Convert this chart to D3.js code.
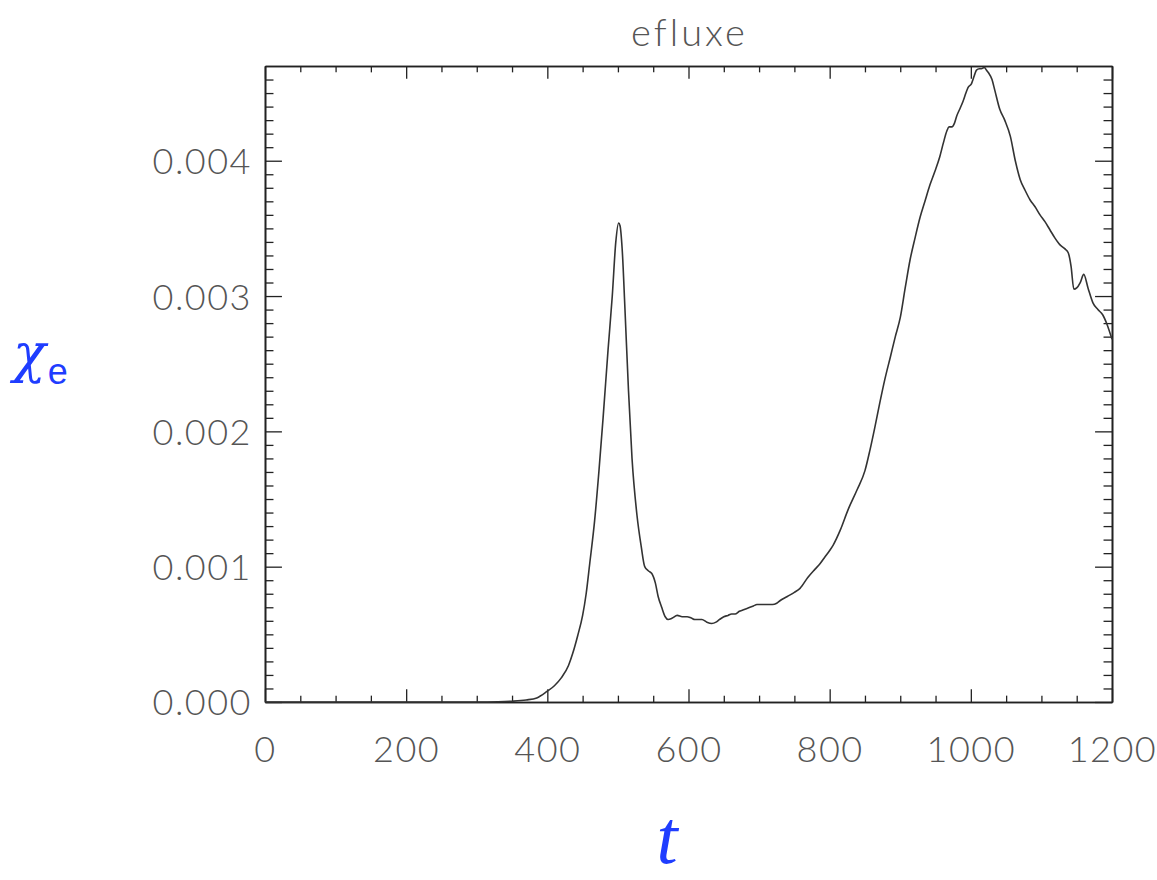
<!DOCTYPE html>
<html>
<head>
<meta charset="utf-8">
<script src="https://cdn.jsdelivr.net/npm/d3@7"></script>
<style>
  html, body { margin: 0; padding: 0; background: #fff; }
  svg { display: block; }
  .tick text { font-family: Lato, "Open Sans", sans-serif; font-weight: 300; fill: #555; letter-spacing: 1.5px; }
</style>
</head>
<body>
<svg id="chart" width="1157" height="880"></svg>
<script>
// time samples
const tValues = [
  0, 100, 200, 300, 330, 350, 370, 385, 400, 410, 420, 430, 436, 443, 450, 455, 460, 467, 473, 479, 486, 492,
  497, 501, 503, 506, 510, 515, 520, 527, 533, 538, 543, 548, 553, 557, 562, 567, 571, 577, 584, 591,
  598, 604, 609, 614, 619, 626, 633, 639, 644, 650, 656, 661, 666, 672, 677, 682, 687, 692, 697, 705,
  713, 719, 725, 730, 740, 750, 758, 769, 779, 786, 793, 800, 805, 815, 826, 839, 850, 857, 864, 871,
  878, 886, 893, 900, 907, 914, 921, 928, 935, 942, 949, 956, 961, 966, 969, 973, 977, 980, 985, 989,
  993, 996, 1001, 1005, 1008, 1012, 1015, 1019, 1022, 1025, 1030, 1034, 1041, 1048, 1056, 1063, 1070, 1077, 1084, 1091,
  1098, 1105, 1112, 1119, 1126, 1133, 1138, 1142, 1146, 1150, 1155, 1160, 1166, 1173, 1180, 1187, 1193, 1200
];
// electron heat diffusivity chi_e
const chiValues = [
  0, 0, 0, 0, 0.000002, 0.000006, 0.000015, 0.00003, 0.00008, 0.00012, 0.00018, 0.00027, 0.00036, 0.00049, 0.00064, 0.00080, 0.00102, 0.00134, 0.00170, 0.00210, 0.00260, 0.00300,
  0.00340, 0.00354, 0.00352, 0.00335, 0.00290, 0.00230, 0.00180, 0.00138, 0.00115, 0.00100, 0.00097, 0.00095, 0.00088, 0.00078, 0.00070, 0.00063, 0.00061, 0.00062, 0.00064, 0.00063,
  0.00063, 0.00062, 0.00061, 0.00061, 0.00061, 0.00059, 0.00058, 0.00059, 0.00061, 0.00063, 0.00064, 0.00065, 0.00065, 0.00067, 0.00068, 0.00069, 0.00070, 0.00071, 0.00072, 0.00072,
  0.00072, 0.00072, 0.00073, 0.00075, 0.00078, 0.00081, 0.00084, 0.00092, 0.00098, 0.00102, 0.00107, 0.00112, 0.00116, 0.00127, 0.00142, 0.00157, 0.00171, 0.00186, 0.00203, 0.00221,
  0.00238, 0.00255, 0.00270, 0.00284, 0.00306, 0.00327, 0.00343, 0.00358, 0.00370, 0.00382, 0.00392, 0.00403, 0.00413, 0.00422, 0.00425, 0.00425, 0.00428, 0.00433, 0.00439, 0.00444,
  0.00450, 0.00454, 0.00457, 0.00463, 0.00467, 0.00468, 0.00468, 0.00469, 0.00467, 0.00465, 0.00460, 0.00452, 0.00438, 0.00430, 0.00418, 0.00400, 0.00386, 0.00378, 0.00371, 0.00366,
  0.00360, 0.00355, 0.00349, 0.00343, 0.00338, 0.00335, 0.00332, 0.00322, 0.00305, 0.00306, 0.00310, 0.00316, 0.00306, 0.00295, 0.00290, 0.00286, 0.00279, 0.00268
];
// axis ticks
const xMajorTicks = [0, 200, 400, 600, 800, 1000, 1200];
const yMajorTicks = [0, 0.001, 0.002, 0.003, 0.004];
const xMinorStep = 50;
const yMinorStep = 0.0001;
const titleText = "efluxe";

const svg = d3.select("#chart");
const margin = { left: 265, top: 66, right: 45, bottom: 178 };
const W = 1157 - margin.left - margin.right;
const H = 880 - margin.top - margin.bottom;

const x = d3.scaleLinear().domain([0, 1200]).range([0, W]);
const y = d3.scaleLinear().domain([0, 0.0047]).range([H, 0]);

const g = svg.append("g").attr("transform", `translate(${margin.left},${margin.top})`);

const xMinor = d3.range(0, 1200 + 1e-9, xMinorStep).filter(v => !xMajorTicks.includes(v));
const yMinor = d3.range(1, 47).map(i => i * yMinorStep).filter(v => Math.abs(v / 0.001 - Math.round(v / 0.001)) > 1e-6);

const xLen = 0.02 * H, yLen = 0.02 * W;

function styleAxis(sel) {
  sel.select(".domain").attr("stroke", "#222").attr("stroke-width", 1.6);
  sel.selectAll(".tick line").attr("stroke", "#222").attr("stroke-width", 1.3);
}

// bottom axis with labels
g.append("g").attr("transform", `translate(0,${H})`)
  .call(d3.axisBottom(x).tickValues(xMajorTicks).tickSizeInner(-xLen).tickSizeOuter(0).tickPadding(34).tickFormat(d3.format("d")))
  .call(styleAxis)
  .call(s => s.selectAll(".tick text").attr("font-size", 36));
g.append("g").attr("transform", `translate(0,${H})`)
  .call(d3.axisBottom(x).tickValues(xMinor).tickSizeInner(-xLen / 2).tickSizeOuter(0).tickFormat(""))
  .call(styleAxis);
// top axis
g.append("g")
  .call(d3.axisTop(x).tickValues(xMajorTicks).tickSizeInner(-xLen).tickSizeOuter(0).tickFormat(""))
  .call(styleAxis);
g.append("g")
  .call(d3.axisTop(x).tickValues(xMinor).tickSizeInner(-xLen / 2).tickSizeOuter(0).tickFormat(""))
  .call(styleAxis);
// left axis with labels
g.append("g")
  .call(d3.axisLeft(y).tickValues(yMajorTicks).tickSizeInner(-yLen).tickSizeOuter(0).tickPadding(13).tickFormat(d3.format(".3f")))
  .call(styleAxis)
  .call(s => s.selectAll(".tick text").attr("font-size", 36).attr("dy", "0.36em"));
g.append("g")
  .call(d3.axisLeft(y).tickValues(yMinor).tickSizeInner(-yLen / 2).tickSizeOuter(0).tickFormat(""))
  .call(styleAxis);
// right axis
g.append("g").attr("transform", `translate(${W},0)`)
  .call(d3.axisRight(y).tickValues(yMajorTicks).tickSizeInner(-yLen).tickSizeOuter(0).tickFormat(""))
  .call(styleAxis);
g.append("g").attr("transform", `translate(${W},0)`)
  .call(d3.axisRight(y).tickValues(yMinor).tickSizeInner(-yLen / 2).tickSizeOuter(0).tickFormat(""))
  .call(styleAxis);

// data curve
const data = tValues.map((t, i) => ({ t, v: chiValues[i] }));
g.append("path")
  .datum(data)
  .attr("fill", "none")
  .attr("stroke", "#333")
  .attr("stroke-width", 1.6)
  .attr("stroke-linejoin", "round")
  .attr("d", d3.line().x(d => x(d.t)).y(d => y(d.v)).curve(d3.curveMonotoneX));

// title
svg.append("text")
  .attr("x", margin.left + W / 2 + 1).attr("y", 46)
  .attr("text-anchor", "middle")
  .attr("font-family", "Lato, 'Open Sans', sans-serif").attr("font-weight", 300)
  .attr("font-size", 38).attr("letter-spacing", 3).attr("fill", "#555")
  .text(titleText);

// y-axis label
const yl = svg.append("text")
  .attr("x", 13).attr("y", 372)
  .attr("font-family", "'DejaVu Serif', 'Liberation Serif', serif")
  .attr("fill", "#1f3dff");
yl.append("tspan").attr("font-size", 54).attr("font-style", "italic").text("χ");
yl.append("tspan").attr("font-size", 36).attr("dy", 12).attr("dx", 2).attr("font-family", "'Liberation Sans', Arial, sans-serif").text("e");

// x-axis label
svg.append("text")
  .attr("x", 667).attr("y", 863)
  .attr("text-anchor", "middle")
  .attr("font-family", "'Liberation Serif', 'Times New Roman', serif")
  .attr("font-style", "italic")
  .attr("font-size", 76).attr("fill", "#1f3dff")
  .text("t");
</script>
</body>
</html>
